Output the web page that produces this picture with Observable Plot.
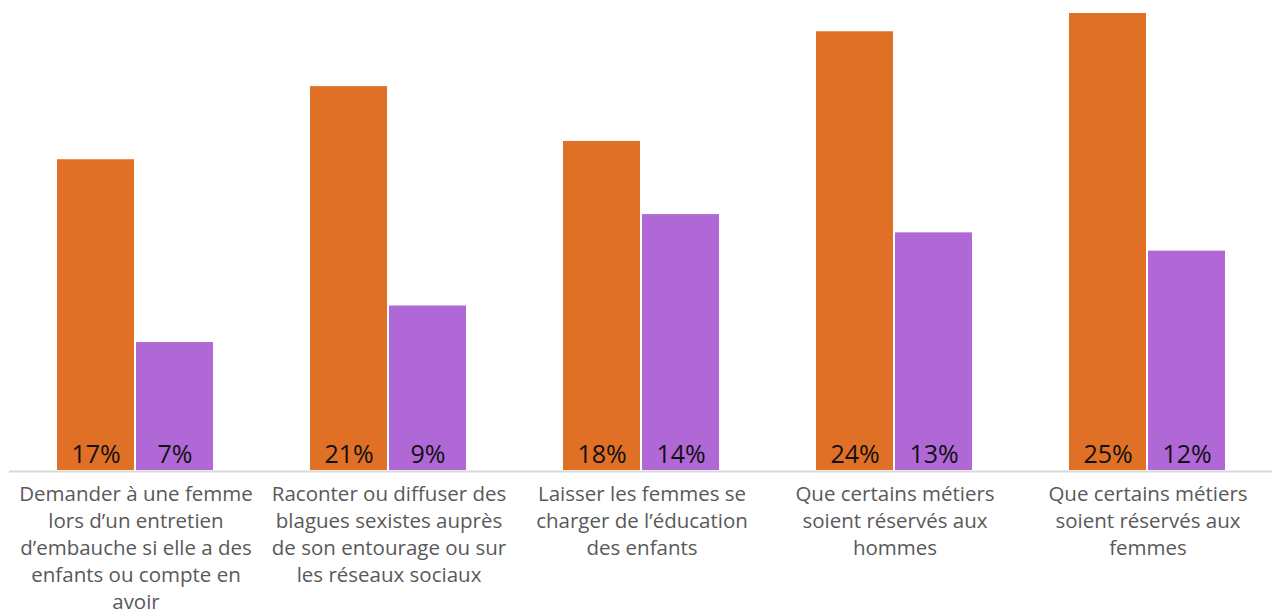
<!DOCTYPE html>
<html>
<head>
<meta charset="utf-8">
<script src="https://cdn.jsdelivr.net/npm/d3@7"></script>
<script src="https://cdn.jsdelivr.net/npm/@observablehq/plot@0.6"></script>
<style>
  html, body { margin: 0; padding: 0; background: #fff; overflow: hidden; }
  #chart { width: 1272px; height: 610px; overflow: hidden; }
  #chart svg { max-width: none !important; }
</style>
</head>
<body>
<div id="chart"></div>
<script>
const categories = [
  "Demander à une femme\nlors d’un entretien\nd’embauche si elle a des\nenfants ou compte en\navoir",
  "Raconter ou diffuser des\nblagues sexistes auprès\nde son entourage ou sur\nles réseaux sociaux",
  "Laisser les femmes se\ncharger de l’éducation\ndes enfants",
  "Que certains métiers\nsoient réservés aux\nhommes",
  "Que certains métiers\nsoient réservés aux\nfemmes"
];
const seriesNames = ["Série 1", "Série 2"];
const series1 = [17, 21, 18, 24, 25];
const series2 = [7, 9, 14, 13, 12];
const seriesColors = ["#E07026", "#B068D6"];

const data = categories.flatMap((c, i) => [
  {category: c, series: seriesNames[0], value: series1[i]},
  {category: c, series: seriesNames[1], value: series2[i]}
]);

const chart = Plot.plot({
  width: 1275,
  height: 610,
  marginLeft: 8,
  marginRight: 0,
  marginTop: 13,
  marginBottom: 140,
  style: {fontFamily: "'Open Sans', sans-serif", background: "#fff", overflow: "visible", maxWidth: "none"},
  fx: {domain: categories, axis: null, paddingInner: 0, paddingOuter: 0},
  x: {domain: seriesNames, axis: null, paddingInner: 0.025, paddingOuter: 0.606},
  y: {domain: [0, 25], axis: null},
  color: {domain: seriesNames, range: seriesColors},
  marks: [
    Plot.barY(data, {fx: "category", x: "series", y: "value", fill: "series"}),
    Plot.ruleY([0], {stroke: "#d9d9d9", strokeWidth: 2, dy: 1}),
    Plot.text(data, {
      fx: "category", x: "series", y: 0,
      text: d => d.value + "%",
      lineAnchor: "bottom", dy: -8,
      fontSize: 25, fill: "#111"
    }),
    Plot.text(categories, {
      fx: d => d, text: d => d,
      frameAnchor: "bottom", lineAnchor: "top", dy: 11,
      fontSize: 20.5, lineHeight: 1.32, fill: "#595959"
    })
  ]
});
document.getElementById("chart").appendChild(chart);
</script>
</body>
</html>
